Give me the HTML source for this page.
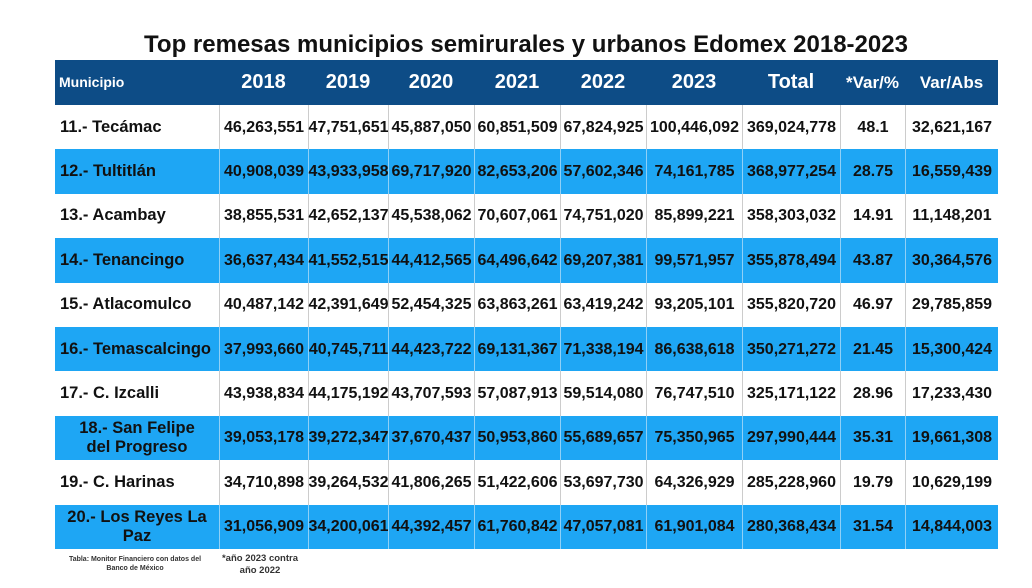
<!DOCTYPE html>
<html><head><meta charset="utf-8">
<style>
body{margin:0;width:1032px;height:588px;background:#fff;font-family:"Liberation Sans",Arial,sans-serif;position:relative;overflow:hidden}
#title{position:absolute;left:0;width:1052px;top:31px;text-align:center;font-weight:bold;font-size:24px;color:#111}
.c{position:absolute;box-sizing:border-box;display:flex;align-items:center;justify-content:center;font-weight:bold;color:#111;font-size:16px;text-align:center;line-height:19px;white-space:nowrap}
.h{color:#fff;font-size:20px}
.note{position:absolute;font-weight:bold;color:#333;text-align:center}
</style></head><body>
<div id="title">Top remesas municipios semirurales y urbanos Edomex 2018-2023</div>
<div id="tbl"></div>
<div class="note" style="left:60px;top:555px;width:150px;font-size:7px;line-height:9px">Tabla: Monitor Financiero con datos del Banco de México</div>
<div class="note" style="left:220px;top:553px;width:80px;font-size:9.5px;line-height:12px">*año 2023 contra año 2022</div>
<script>
const headers=["Municipio","2018","2019","2020","2021","2022","2023","Total","*Var/%","Var/Abs"];
const municipios=["11.- Tecámac","12.- Tultitlán","13.- Acambay","14.- Tenancingo","15.- Atlacomulco","16.- Temascalcingo","17.- C. Izcalli","18.- San Felipe\ndel Progreso","19.- C. Harinas","20.- Los Reyes La\nPaz"];
const v2018=["46,263,551","40,908,039","38,855,531","36,637,434","40,487,142","37,993,660","43,938,834","39,053,178","34,710,898","31,056,909"];
const v2019=["47,751,651","43,933,958","42,652,137","41,552,515","42,391,649","40,745,711","44,175,192","39,272,347","39,264,532","34,200,061"];
const v2020=["45,887,050","69,717,920","45,538,062","44,412,565","52,454,325","44,423,722","43,707,593","37,670,437","41,806,265","44,392,457"];
const v2021=["60,851,509","82,653,206","70,607,061","64,496,642","63,863,261","69,131,367","57,087,913","50,953,860","51,422,606","61,760,842"];
const v2022=["67,824,925","57,602,346","74,751,020","69,207,381","63,419,242","71,338,194","59,514,080","55,689,657","53,697,730","47,057,081"];
const v2023=["100,446,092","74,161,785","85,899,221","99,571,957","93,205,101","86,638,618","76,747,510","75,350,965","64,326,929","61,901,084"];
const totals=["369,024,778","368,977,254","358,303,032","355,878,494","355,820,720","350,271,272","325,171,122","297,990,444","285,228,960","280,368,434"];
const varPct=["48.1","28.75","14.91","43.87","46.97","21.45","28.96","35.31","19.79","31.54"];
const varAbs=["32,621,167","16,559,439","11,148,201","30,364,576","29,785,859","15,300,424","17,233,430","19,661,308","10,629,199","14,844,003"];
const edges=[55,219,308,388,474,560,646,742,840,905,998];
const top0=60,hH=45,rH=44.4;
const tbl=document.getElementById('tbl');
function cell(x,y,w,h,txt,bg,cls,name){
  const d=document.createElement('div');
  d.className='c '+(cls||'');
  d.style.cssText=`left:${x}px;top:${y}px;width:${w}px;height:${h}px;background:${bg}`;
  d.textContent=txt;
  
  
  tbl.appendChild(d);return d;
}
cell(edges[0],top0,edges[10]-edges[0],hH,'','#0d4c86','','header-row');
headers.forEach((t,i)=>{
  const d=cell(edges[i],top0,edges[i+1]-edges[i],hH,t,'transparent','h','header-'+i);
  if(i===0){d.style.fontSize='14px';d.style.justifyContent='flex-start';d.style.paddingLeft='4px';}
  if(i>=8)d.style.fontSize='17px';
});
const cols=[v2018,v2019,v2020,v2021,v2022,v2023,totals,varPct,varAbs];
municipios.forEach((m,r)=>{
  const y=top0+hH+r*rH;
  const bg=r%2?'#1ea6f4':'#fff';
  const bc=r%2?'#8fd0f7':'#ccc';
  const n=cell(edges[0],y,edges[1]-edges[0],rH,m,bg,'','row-label');
  n.style.fontSize='16.5px';
  if(m.indexOf('\n')>=0){n.style.whiteSpace='pre-line';n.style.lineHeight='19px';}
  else{n.style.justifyContent='flex-start';n.style.paddingLeft='5px';}
  cols.forEach((c,i)=>{
    const d=cell(edges[i+1],y,edges[i+2]-edges[i+1],rH,c[r],bg,'','value-cell');
    d.style.borderLeft='1px solid '+bc;
  });
});
</script>
</body></html>
